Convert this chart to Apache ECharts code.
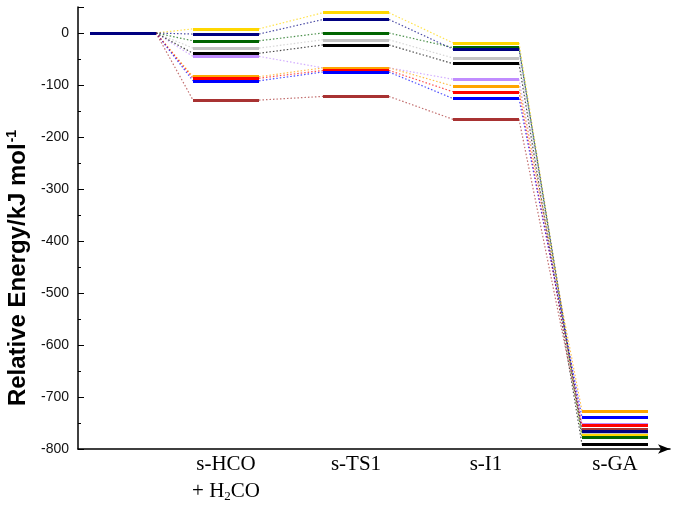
<!DOCTYPE html>
<html>
<head>
<meta charset="utf-8">
<script src="https://cdn.jsdelivr.net/npm/echarts@6/dist/echarts.min.js"></script>
<style>
  html, body { margin: 0; padding: 0; background: #fff; }
  #chart { width: 680px; height: 506px; }
</style>
</head>
<body>
<div id="chart"></div>
<script>
// stage positions along the reaction coordinate (x axis units) and their labels
const stageX = [45, 148, 278, 408, 537]
const stageLabels = ['', 's-HCO\n+ H{sub|2}CO', 's-TS1', 's-I1', 's-GA']
const yTicks = [-800, -700, -600, -500, -400, -300, -200, -100, 0]

// relative energies (kJ/mol) for each pathway: start, HCO+H2CO, TS1, I1, GA
const grey = [0, -29, -13, -48, -771]
const lavender = [0, -45, -67, -89, -752]
const gold = [0, 8, 39, -19, -773]
const green = [0, -15, 0, -28, -777]
const black = [0, -39, -23, -59, -791]
const orange = [0, -84, -67, -102, -727]
const red = [0, -87, -72, -113, -754]
const blue = [0, -92, -75, -126, -739]
const brown = [0, -129, -122, -166, -762]
const navy = [0, -2, 26, -31, -766]

const pathways = [
  { values: grey, color: '#c4c4c4' },
  { values: lavender, color: '#c08cff' },
  { values: gold, color: '#ffd700' },
  { values: green, color: '#006400' },
  { values: black, color: '#000000' },
  { values: orange, color: '#ffa500' },
  { values: red, color: '#ff0000' },
  { values: blue, color: '#0000ff' },
  { values: brown, color: '#a83232' },
  { values: navy, color: '#000080' }
]

const halfWidth = 33
const levelData = []
const linkData = []
pathways.forEach(p => {
  p.values.forEach((v, i) => {
    levelData.push({
      coords: [[stageX[i] - halfWidth, v], [stageX[i] + halfWidth, v]],
      lineStyle: { color: p.color }
    })
    if (i < p.values.length - 1) {
      linkData.push({
        coords: [[stageX[i] + halfWidth, v], [stageX[i + 1] - halfWidth, p.values[i + 1]]],
        lineStyle: { color: p.color }
      })
    }
  })
})

const chart = echarts.init(document.getElementById('chart'))
chart.setOption({
  animation: false,
  grid: { left: 78, right: 10, top: 7, bottom: 57, containLabel: false, outerBoundsMode: 'none' },
  xAxis: {
    type: 'value',
    min: 0,
    max: 592,
    name: 'Reaction Coordinate',
    nameLocation: 'middle',
    nameGap: 32,
    nameTextStyle: {
      fontFamily: 'Liberation Sans',
      fontWeight: 'bold',
      fontSize: 21,
      color: '#000',
      padding: [0, 0, 0, 90]
    },
    splitLine: { show: false },
    axisTick: { show: false },
    axisLine: {
      onZero: false,
      lineStyle: { color: '#000', width: 1.5 },
      symbol: ['none', 'arrow'],
      symbolSize: [7, 12]
    },
    axisLabel: {
      customValues: stageX.slice(1),
      formatter: v => stageLabels[stageX.indexOf(v)] || '',
      fontFamily: 'Liberation Serif',
      fontSize: 21,
      lineHeight: 27,
      color: '#000',
      margin: 2,
      rich: {
        sub: { fontFamily: 'Liberation Serif', fontSize: 13, lineHeight: 27, padding: [11, 0, 0, 0], color: '#000' }
      }
    }
  },
  yAxis: {
    type: 'value',
    min: yTicks[0],
    max: 50,
    interval: 100,
    name: 'Relative Energy/kJ mol{sup|-1}',
    nameLocation: 'middle',
    nameGap: 42,
    nameTextStyle: {
      fontFamily: 'Liberation Sans',
      fontWeight: 'bold',
      fontSize: 24,
      color: '#000',
      padding: [0, 80, 0, 0],
      rich: {
        sup: { fontFamily: 'Liberation Sans', fontWeight: 'bold', fontSize: 14, padding: [0, 0, 12, 1], color: '#000' }
      }
    },
    splitLine: { show: false },
    axisLine: { show: true, lineStyle: { color: '#000', width: 1.5 } },
    axisTick: { inside: true, length: 6, lineStyle: { color: '#000' } },
    minorTick: { show: true, splitNumber: 2, length: 3, lineStyle: { color: '#000' } },
    axisLabel: {
      formatter: v => (v > 0 ? '' : v),
      fontFamily: 'Liberation Sans',
      fontSize: 14,
      color: '#111',
      margin: 9
    }
  },
  series: [
    {
      type: 'lines',
      coordinateSystem: 'cartesian2d',
      silent: true,
      z: 2,
      lineStyle: { width: 1.2, type: [1.5, 2], opacity: 0.7 },
      data: linkData
    },
    {
      type: 'lines',
      coordinateSystem: 'cartesian2d',
      silent: true,
      z: 3,
      lineStyle: { width: 3, type: 'solid', opacity: 1 },
      data: levelData
    }
  ]
})
</script>
</body>
</html>
